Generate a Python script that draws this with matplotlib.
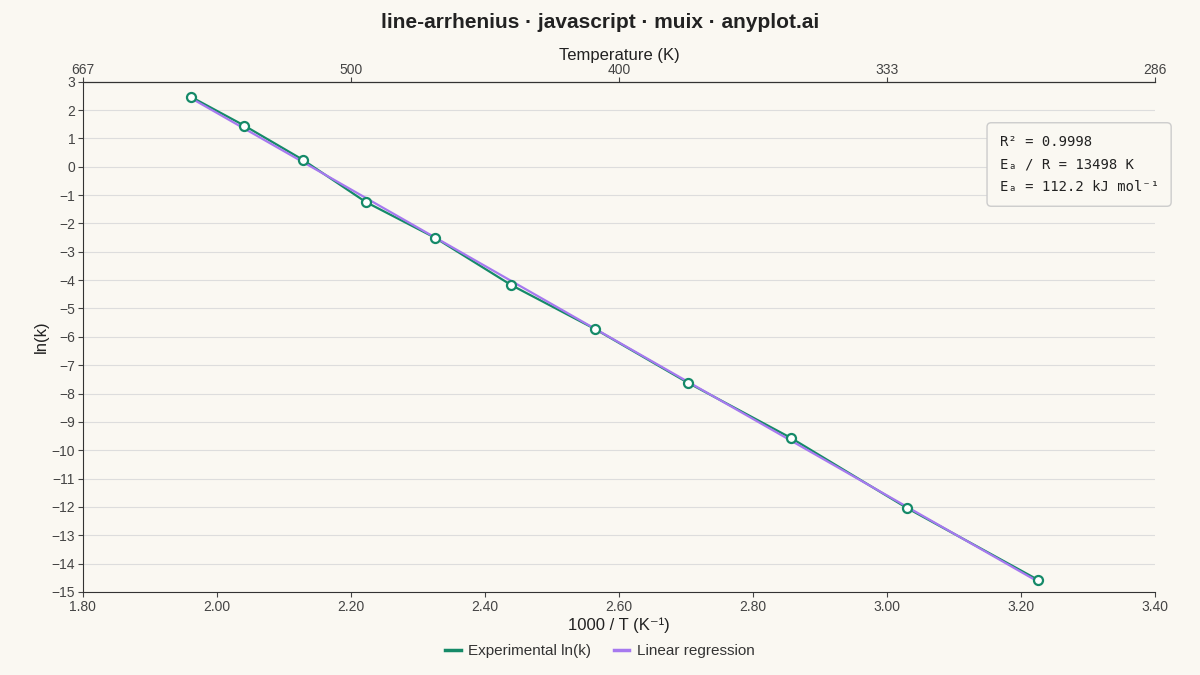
import numpy as np
import matplotlib
matplotlib.use("Agg")
import matplotlib.pyplot as plt
from matplotlib.lines import Line2D

plt.rcParams['font.family'] = ['Liberation Sans', 'DejaVu Sans']

inv_T = [1.961, 2.041, 2.128, 2.222, 2.326, 2.439, 2.564, 2.703, 2.857, 3.030, 3.226]
ln_k = [2.47, 1.45, 0.25, -1.24, -2.51, -4.17, -5.72, -7.62, -9.57, -12.04, -14.58]
top_ticks = [1.8, 2.2, 2.6, 3.0, 3.4]
top_labels = ["667", "500", "400", "333", "286"]
bottom_ticks = [1.8, 2.0, 2.2, 2.4, 2.6, 2.8, 3.0, 3.2, 3.4]
y_ticks = list(range(-15, 4))

bg = "#faf8f2"
green = "#158a68"
purple = "#a679ef"

fig = plt.figure(figsize=(12, 6.75), dpi=100, facecolor=bg)
ax = fig.add_axes([0.069, 0.123, 0.8935, 0.756], facecolor=bg)

x = np.array(inv_T); y = np.array(ln_k)
m, b = np.polyfit(x, y, 1)
xs = np.array([x.min(), x.max()])
ax.plot(x, y, color=green, lw=1.6, zorder=2)
ax.plot(xs, m * xs + b, color=purple, lw=1.6, zorder=3)
ax.plot(x, y, ls="none", marker="o", ms=6.5, mfc="white", mec=green, mew=1.6, zorder=4)

ax.set_xlim(1.8, 3.4)
ax.set_ylim(-15, 3)
ax.set_xticks(bottom_ticks)
ax.set_xticklabels([f"{t:.2f}" for t in bottom_ticks])
ax.set_yticks(y_ticks)
ax.set_yticklabels([str(t).replace("-", "\u2212") for t in y_ticks])
ax.grid(axis="y", color="#dddddd", lw=0.8)
ax.set_axisbelow(True)
ax.spines["right"].set_visible(False)
for s in ["left", "bottom", "top"]:
    ax.spines[s].set_color("#333333")
ax.tick_params(labelsize=10, colors="#444444", pad=2)
ax.set_xlabel("1000 / T (K\u207b\u00b9)", fontsize=12, color="#222222", labelpad=3)
ax.set_ylabel("ln(k)", fontsize=12, color="#222222", labelpad=2)

ax2 = ax.secondary_xaxis("top")
ax2.set_xticks(top_ticks)
ax2.set_xticklabels(top_labels)
ax2.tick_params(labelsize=10, colors="#444444", pad=0)
ax2.set_xlabel("Temperature (K)", fontsize=12, color="#222222", labelpad=2)

fig.text(0.5, 0.967, "line-arrhenius \u00b7 javascript \u00b7 muix \u00b7 anyplot.ai",
         ha="center", va="center", fontsize=15, fontweight="bold", color="#222222")

ax.text(0.855, 0.895, "R\u00b2 = 0.9998\nE\u2090 / R = 13498 K\nE\u2090 = 112.2 kJ mol\u207b\u00b9",
        transform=ax.transAxes, ha="left", va="top", fontsize=10, family="DejaVu Sans Mono",
        color="#222222", linespacing=1.75,
        bbox=dict(boxstyle="round,pad=0.9,rounding_size=0.3", fc=bg, ec="#cccccc"))

handles = [Line2D([], [], color=green, lw=2.5), Line2D([], [], color=purple, lw=2.5)]
fig.legend(handles, ["Experimental ln(k)", "Linear regression"], loc="center",
           bbox_to_anchor=(0.5, 0.035), ncol=2, frameon=False, fontsize=11,
           handlelength=1.0, handletextpad=0.5, columnspacing=1.5, labelcolor="#333333")

fig.savefig("out.png", facecolor=bg)
